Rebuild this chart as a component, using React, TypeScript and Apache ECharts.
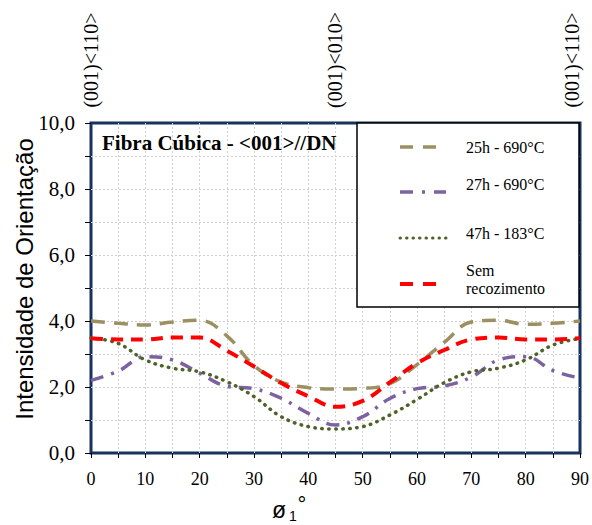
import React, { useEffect, useRef } from 'react';
import * as echarts from 'echarts';

const angles = [0, 5, 10, 15, 20, 25, 30, 35, 40, 45, 50, 55, 60, 65, 70, 75, 80, 85, 90];
const s25h690 = [4.0, 3.93, 3.88, 3.97, 4.02, 3.55, 2.65, 2.15, 1.98, 1.94, 1.96, 2.1, 2.68, 3.35, 3.97, 4.02, 3.9, 3.93, 4.0];
const s27h690 = [2.2, 2.48, 2.92, 2.82, 2.42, 2.02, 1.95, 1.66, 1.2, 0.85, 1.1, 1.65, 1.95, 2.03, 2.3, 2.82, 2.92, 2.5, 2.27];
const s47h183 = [3.49, 3.32, 2.82, 2.57, 2.46, 2.16, 1.71, 1.1, 0.8, 0.73, 0.8, 1.15, 1.62, 2.13, 2.46, 2.57, 2.82, 3.27, 3.47];
const sSemRec = [3.48, 3.44, 3.44, 3.5, 3.5, 3.1, 2.62, 2.12, 1.72, 1.4, 1.58, 2.14, 2.72, 3.12, 3.44, 3.5, 3.44, 3.44, 3.48];

const seriesNames = ['25h - 690°C', '27h - 690°C', '47h - 183°C', 'Sem\nrecozimento'];
const topLabels = ['(001)<110>', '(001)<010>', '(001)<110>'];
const chartTitle = 'Fibra Cúbica - <001>//DN';
const yAxisTitle = 'Intensidade de Orientação';

const C_OLIVE = '#9c9062';
const C_PURPLE = '#7d62a0';
const C_GREEN = '#4f6228';
const C_RED = '#ff0000';
const NAVY = '#17325f';
const SERIF = 'Liberation Serif';
const SANS = 'Liberation Sans';

function pairs(vals: number[]) {
  return angles.map((a, i) => [a, vals[i]]);
}

export default function App() {
  const ref = useRef<HTMLDivElement>(null);
  useEffect(() => {
    const chart = echarts.init(ref.current!, null, { renderer: 'svg' });
    const legendX1 = 400;
    const legendX2 = 446;
    const textX = 466;
    const serifText = (size: number, bold = false) => ({ fontFamily: SERIF, fontSize: size, fontWeight: bold ? 'bold' : 'normal' });
    const option: any = {
      animation: false,
      backgroundColor: '#ffffff',
      grid: {
        left: 91, right: 12, top: 123, bottom: 72,
        show: true, borderColor: NAVY, borderWidth: 3, backgroundColor: 'transparent',
      },
      xAxis: {
        type: 'value', min: 0, max: 90, interval: 5,
        axisLine: { show: false },
        axisTick: { show: true, length: 5, inside: false, lineStyle: { color: '#000', width: 1 } },
        axisLabel: {
          color: '#000', fontFamily: SERIF, fontSize: 18, margin: 17,
          formatter: (v: number) => (v % 10 === 0 ? String(v) : ''),
        },
        splitLine: { show: true, showMinLine: false, showMaxLine: false, lineStyle: { color: '#d0d0d0', type: [2, 2], width: 1 } },
      },
      yAxis: {
        type: 'value', min: 0, max: 10, interval: 1,
        axisLine: { show: false },
        axisTick: { show: true, length: 6, inside: false, lineStyle: { color: '#000', width: 1 } },
        axisLabel: {
          color: '#000', fontFamily: SERIF, fontSize: 21, margin: 16,
          formatter: (v: number) => (v % 2 === 0 ? v.toFixed(1).replace('.', ',') : ''),
        },
        splitLine: { show: true, showMinLine: false, showMaxLine: false, lineStyle: { color: '#d0d0d0', type: [2, 2], width: 1 } },
      },
      series: [
        {
          name: seriesNames[0], type: 'line', data: pairs(s25h690), smooth: 0.4, symbol: 'none',
          lineStyle: { color: C_OLIVE, width: 3.5, type: [14, 9] },
        },
        {
          name: seriesNames[1], type: 'line', data: pairs(s27h690), smooth: 0.4, symbol: 'none',
          lineStyle: { color: C_PURPLE, width: 3.5, type: [13, 8, 3, 8] },
        },
        {
          name: seriesNames[2], type: 'line', data: pairs(s47h183), smooth: 0.4, symbol: 'none',
          lineStyle: { color: C_GREEN, width: 3.5, type: [0.5, 6.5], cap: 'round' },
        },
        {
          name: seriesNames[3], type: 'line', data: pairs(sSemRec), smooth: 0.4, symbol: 'none',
          lineStyle: { color: C_RED, width: 4, type: [12, 8] },
        },
      ],
      graphic: [
        // top orientation labels
        { type: 'text', x: 91, y: 60, rotation: Math.PI / 2, z: 100,
          style: { text: topLabels[0], ...serifText(20), fill: '#000', align: 'center', verticalAlign: 'middle' } },
        { type: 'text', x: 335, y: 60, rotation: Math.PI / 2, z: 100,
          style: { text: topLabels[1], ...serifText(20), fill: '#000', align: 'center', verticalAlign: 'middle' } },
        { type: 'text', x: 572, y: 60, rotation: Math.PI / 2, z: 100,
          style: { text: topLabels[2], ...serifText(20), fill: '#000', align: 'center', verticalAlign: 'middle' } },
        // chart title inside plot
        { type: 'text', x: 102, y: 143, z: 100,
          style: { text: chartTitle, ...serifText(21, true), fill: '#000', align: 'left', verticalAlign: 'middle' } },
        // y axis title
        { type: 'text', x: 24, y: 279, rotation: Math.PI / 2, z: 100,
          style: { text: yAxisTitle, fontFamily: SANS, fontSize: 24, fill: '#000', align: 'center', verticalAlign: 'middle' } },
        // x axis title ø1°
        { type: 'text', x: 279, y: 510, z: 100,
          style: { text: 'ø', fontFamily: SANS, fontSize: 23, fill: '#000', align: 'center', verticalAlign: 'middle' } },
        { type: 'text', x: 293, y: 516, z: 100,
          style: { text: '1', fontFamily: SANS, fontSize: 14, fill: '#000', align: 'center', verticalAlign: 'middle' } },
        { type: 'text', x: 302, y: 504, z: 100,
          style: { text: '°', fontFamily: SANS, fontSize: 22, fill: '#000', align: 'center', verticalAlign: 'middle' } },
        // legend box
        { type: 'rect', z: 100, shape: { x: 357, y: 123, width: 222, height: 184 },
          style: { fill: '#fff', stroke: '#000', lineWidth: 1.5 } },
        { type: 'line', z: 101, shape: { x1: legendX1, y1: 147, x2: legendX2 - 9, y2: 147 },
          style: { stroke: C_OLIVE, lineWidth: 3.5, lineDash: [13, 10] } },
        { type: 'text', z: 101, x: textX, y: 147,
          style: { text: seriesNames[0], ...serifText(16), fill: '#000', align: 'left', verticalAlign: 'middle' } },
        { type: 'line', z: 101, shape: { x1: legendX1, y1: 192, x2: legendX2, y2: 192 },
          style: { stroke: C_PURPLE, lineWidth: 3.5, lineDash: [13, 9, 3, 9] } },
        { type: 'text', z: 101, x: textX, y: 184,
          style: { text: seriesNames[1], ...serifText(16), fill: '#000', align: 'left', verticalAlign: 'middle' } },
        { type: 'line', z: 101, shape: { x1: legendX1, y1: 238, x2: legendX2, y2: 238 },
          style: { stroke: C_GREEN, lineWidth: 3, lineDash: [0.5, 6], lineCap: 'round' } },
        { type: 'text', z: 101, x: textX, y: 233,
          style: { text: seriesNames[2], ...serifText(16), fill: '#000', align: 'left', verticalAlign: 'middle' } },
        { type: 'line', z: 101, shape: { x1: legendX1, y1: 284, x2: legendX2 - 9, y2: 284 },
          style: { stroke: C_RED, lineWidth: 4, lineDash: [13, 10] } },
        { type: 'text', z: 101, x: textX, y: 279,
          style: { text: seriesNames[3], ...serifText(16), fill: '#000', align: 'left', verticalAlign: 'middle', lineHeight: 18 } },
      ],
    };
    chart.setOption(option);
    return () => chart.dispose();
  }, []);
  return (
    <div
      ref={ref}
      style={{ position: 'absolute', left: 0, top: 0, width: 592, height: 525, background: '#fff' }}
    />
  );
}
